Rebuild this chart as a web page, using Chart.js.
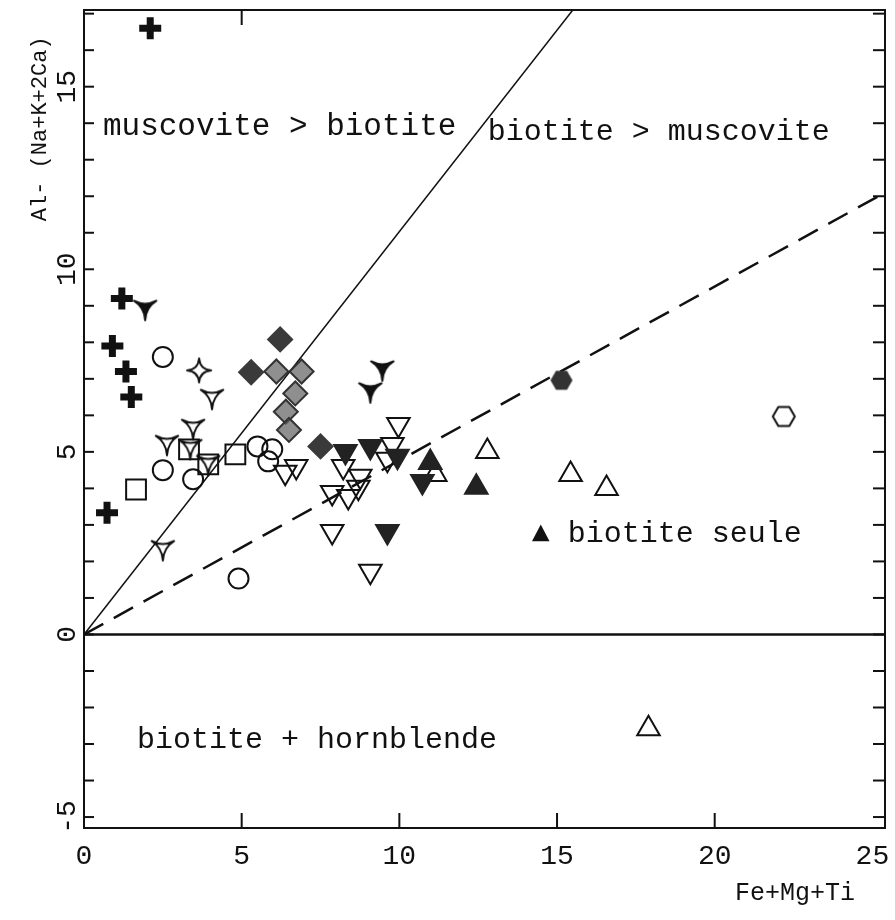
<!DOCTYPE html>
<html>
<head>
<meta charset="utf-8">
<title>Al-(Na+K+2Ca) vs Fe+Mg+Ti</title>
<script src="https://cdn.jsdelivr.net/npm/chart.js@4.4.1/dist/chart.umd.min.js"></script>
<style>
    html, body { margin: 0; padding: 0; background: #fff; }
    #wrap { width: 895px; height: 920px; }
</style>
</head>
<body>
<div id="wrap"><canvas id="chart" width="895" height="920"></canvas></div>
<script>
// Axis ranges and tick spacing
const xRange = [0, 25.4];
const yRange = [-5.3, 17.1];
const xTickStep = 5;
const yTickStep = 1;
const yLabelEvery = 5;
const bottomTicks = [5, 10, 15, 20];
const topTicks = [5];

// Samples: [Fe+Mg+Ti, Al-(Na+K+2Ca)]
const filledCross = [[2.1, 16.6], [1.2, 9.2], [0.9, 7.9], [1.33, 7.2], [1.5, 6.5], [0.73, 3.33]];
const filledTriStar = [[1.94, 8.96], [9.46, 7.3], [9.08, 6.7]];
const openTriStar = [[4.06, 6.52], [3.46, 5.7], [2.63, 5.26], [3.37, 5.15], [3.94, 4.71], [2.5, 2.38]];
const openStar = [[3.65, 7.23]];
const openCircle = [[2.5, 7.6], [2.5, 4.5], [3.46, 4.25], [4.9, 1.53], [5.5, 5.15], [5.97, 5.07], [5.84, 4.74]];
const openSquare = [[1.65, 3.97], [3.33, 5.07], [3.94, 4.66], [4.8, 4.93]];
const filledDiamond = [[6.22, 8.08], [5.3, 7.18], [7.5, 5.15]];
const shadedDiamond = [[6.1, 7.2], [6.9, 7.2], [6.7, 6.6], [6.4, 6.1], [6.5, 5.6]];
const openDownTri = [[9.97, 5.75], [8.22, 4.6], [9.78, 5.2], [9.62, 4.8], [8.76, 4.33], [7.87, 3.89],
    [8.38, 3.78], [8.7, 4.03], [6.73, 4.6], [6.38, 4.44], [7.87, 2.82], [9.08, 1.73]];
const filledDownTri = [[9.62, 2.82], [9.94, 4.88], [10.73, 4.19], [8.29, 5.01], [9.08, 5.15]];
const openUpTri = [[12.79, 5.01], [15.43, 4.38], [16.57, 4.0], [17.9, -2.58], [11.14, 4.38]];
const filledUpTri = [[10.98, 4.71], [12.44, 4.03]];
const openHexagon = [[22.19, 5.97]];
const filledHexagon = [[15.14, 6.96]];

// Boundary lines
const muscoviteLine = [[0, 0], [15.5, 17.1]];
const biotiteLine = [[0, 0], [25.4, 12.1]];
const zeroLine = [[0, 0], [25.4, 0]];

// Field labels (data coordinates, left edge / vertical middle)
const fieldLabels = [
    { text: 'muscovite > biotite', x: 0.6, y: 13.9, size: 31 },
    { text: 'biotite > muscovite', x: 12.8, y: 13.75, size: 30 },
    { text: '\u25B2 biotite seule', x: 14.2, y: 2.75, size: 30 },
    { text: 'biotite + hornblende', x: 1.68, y: -2.88, size: 30 }
];

const INK = '#111';
const MONO = "'Liberation Mono', 'DejaVu Sans Mono', monospace";

const toPoints = arr => arr.map(([x, y]) => ({ x, y }));

// Custom marker images
function marker(size, draw) {
    const c = document.createElement('canvas');
    c.width = c.height = size;
    const ctx = c.getContext('2d');
    ctx.translate(size / 2, size / 2);
    ctx.strokeStyle = INK;
    ctx.fillStyle = INK;
    ctx.lineWidth = 2;
    ctx.lineJoin = 'round';
    draw(ctx);
    return c;
}

function starPath(ctx, r, angles, pull) {
    const tips = angles.map(a => [Math.cos(a * Math.PI / 180) * r, Math.sin(a * Math.PI / 180) * r]);
    ctx.beginPath();
    ctx.moveTo(tips[0][0], tips[0][1]);
    for (let i = 1; i <= tips.length; i++) {
        const a = tips[i - 1], b = tips[i % tips.length];
        ctx.quadraticCurveTo((a[0] + b[0]) * pull, (a[1] + b[1]) * pull, b[0], b[1]);
    }
    ctx.closePath();
}

function hexPath(ctx, r) {
    ctx.beginPath();
    for (let i = 0; i < 6; i++) {
        const a = i * Math.PI / 3;
        ctx[i ? 'lineTo' : 'moveTo'](Math.cos(a) * r, Math.sin(a) * r);
    }
    ctx.closePath();
}

const triStarFilled = marker(30, ctx => { starPath(ctx, 13, [-150, -30, 90], 0.05); ctx.fill(); ctx.stroke(); });
const triStarOpen = marker(30, ctx => { starPath(ctx, 13, [-150, -30, 90], 0.05); ctx.stroke(); });
const fourStarOpen = marker(30, ctx => { starPath(ctx, 12, [0, 90, 180, 270], 0.08); ctx.stroke(); });
const hexOpen = marker(28, ctx => { hexPath(ctx, 11); ctx.stroke(); });
const hexFilled = marker(28, ctx => { ctx.fillStyle = '#333'; hexPath(ctx, 11); ctx.fill(); });

function pointSet(label, data, style) {
    return Object.assign({
        label,
        data: toPoints(data),
        borderColor: INK,
        backgroundColor: 'rgba(0,0,0,0)',
        borderWidth: 2,
        pointRadius: 10,
        showLine: false
    }, style);
}

function lineSet(label, data, style) {
    return Object.assign({
        label,
        data: toPoints(data),
        showLine: true,
        borderColor: INK,
        borderWidth: 2,
        pointRadius: 0,
        fill: false
    }, style);
}

// Frame, inward tick marks and field labels
const framePlugin = {
    id: 'frame',
    beforeDatasetsDraw(chart) {
        const { ctx, chartArea: a, scales: { x, y } } = chart;
        const seg = (x1, y1, x2, y2) => { ctx.beginPath(); ctx.moveTo(x1, y1); ctx.lineTo(x2, y2); ctx.stroke(); };
        ctx.save();
        ctx.strokeStyle = INK;
        ctx.lineWidth = 2;
        ctx.strokeRect(a.left, a.top, a.right - a.left, a.bottom - a.top);
        for (let v = Math.ceil(yRange[0]); v <= yRange[1]; v += yTickStep) {
            const py = y.getPixelForValue(v);
            seg(a.left, py, a.left + 10, py);
            seg(a.right, py, a.right - 12, py);
        }
        bottomTicks.forEach(v => {
            const px = x.getPixelForValue(v);
            seg(px, a.bottom, px, a.bottom - 15);
        });
        topTicks.forEach(v => {
            const px = x.getPixelForValue(v);
            seg(px, a.top, px, a.top + 15);
        });
        ctx.restore();
    },
    afterDatasetsDraw(chart) {
        const { ctx, scales: { x, y } } = chart;
        ctx.save();
        ctx.fillStyle = INK;
        ctx.textBaseline = 'middle';
        ctx.textAlign = 'left';
        fieldLabels.forEach(l => {
            ctx.font = l.size + 'px ' + MONO;
            ctx.fillText(l.text, x.getPixelForValue(l.x), y.getPixelForValue(l.y));
        });
        ctx.restore();
    }
};

const ctx = document.getElementById('chart').getContext('2d');
new Chart(ctx, {
    type: 'scatter',
    data: {
        datasets: [
            pointSet('filled cross', filledCross, { pointStyle: 'cross', pointRadius: 11, borderWidth: 7 }),
            pointSet('filled tri-star', filledTriStar, { pointStyle: triStarFilled }),
            pointSet('open tri-star', openTriStar, { pointStyle: triStarOpen }),
            pointSet('open star', openStar, { pointStyle: fourStarOpen }),
            pointSet('open circle', openCircle, { pointStyle: 'circle', pointRadius: 10 }),
            pointSet('open square', openSquare, { pointStyle: 'rect', pointRadius: 14 }),
            pointSet('filled diamond', filledDiamond, { pointStyle: 'rectRot', pointRadius: 12, backgroundColor: '#3a3a3a', borderColor: '#3a3a3a' }),
            pointSet('shaded diamond', shadedDiamond, { pointStyle: 'rectRot', pointRadius: 12, backgroundColor: 'rgba(95,95,95,0.7)', borderColor: '#333' }),
            pointSet('filled down triangle', filledDownTri, { pointStyle: 'triangle', rotation: 180, pointRadius: 13, backgroundColor: '#222', borderColor: '#222' }),
            pointSet('open down triangle', openDownTri, { pointStyle: 'triangle', rotation: 180, pointRadius: 13 }),
            pointSet('filled up triangle', filledUpTri, { pointStyle: 'triangle', pointRadius: 13, backgroundColor: '#222', borderColor: '#222' }),
            pointSet('open up triangle', openUpTri, { pointStyle: 'triangle', pointRadius: 13 }),
            pointSet('open hexagon', openHexagon, { pointStyle: hexOpen }),
            pointSet('filled hexagon', filledHexagon, { pointStyle: hexFilled }),
            lineSet('muscovite = biotite', muscoviteLine, { borderWidth: 1.5 }),
            lineSet('biotite limit', biotiteLine, { borderWidth: 2.5, borderDash: [22, 12] }),
            lineSet('zero', zeroLine, { borderWidth: 2.5 })
        ]
    },
    options: {
        responsive: false,
        animation: false,
        layout: { autoPadding: false, padding: { top: 10, right: 10, left: 0, bottom: 0 } },
        plugins: {
            legend: { display: false },
            tooltip: { enabled: false }
        },
        scales: {
            x: {
                type: 'linear',
                min: xRange[0],
                max: xRange[1],
                afterFit: scale => {
                    scale.height = 92;
                    scale.paddingLeft = 0;
                    scale.paddingRight = 0;
                },
                grid: { display: false, drawTicks: false },
                border: { display: false },
                ticks: {
                    stepSize: xTickStep,
                    includeBounds: false,
                    maxRotation: 0,
                    padding: 12,
                    color: INK,
                    font: { family: MONO, size: 28 }
                },
                title: {
                    display: true,
                    text: 'Fe+Mg+Ti  ',
                    align: 'end',
                    color: INK,
                    padding: { top: 0, bottom: 12 },
                    font: { family: MONO, size: 25 }
                }
            },
            y: {
                type: 'linear',
                min: yRange[0],
                max: yRange[1],
                afterFit: scale => {
                    scale.width = 84;
                    scale.paddingTop = 0;
                    scale.paddingBottom = 0;
                },
                grid: { display: false, drawTicks: false },
                border: { display: false },
                ticks: {
                    stepSize: yTickStep,
                    autoSkip: false,
                    includeBounds: false,
                    minRotation: 90,
                    maxRotation: 90,
                    crossAlign: 'center',
                    padding: 0,
                    color: INK,
                    font: { family: MONO, size: 28 },
                    callback: v => (v % yLabelEvery === 0 ? String(v) : '')
                },
                title: {
                    display: true,
                    text: 'Al- (Na+K+2Ca)  ',
                    align: 'end',
                    color: INK,
                    padding: { top: 27, bottom: 0 },
                    font: { family: MONO, size: 22 }
                }
            }
        }
    },
    plugins: [framePlugin]
});
</script>
</body>
</html>
